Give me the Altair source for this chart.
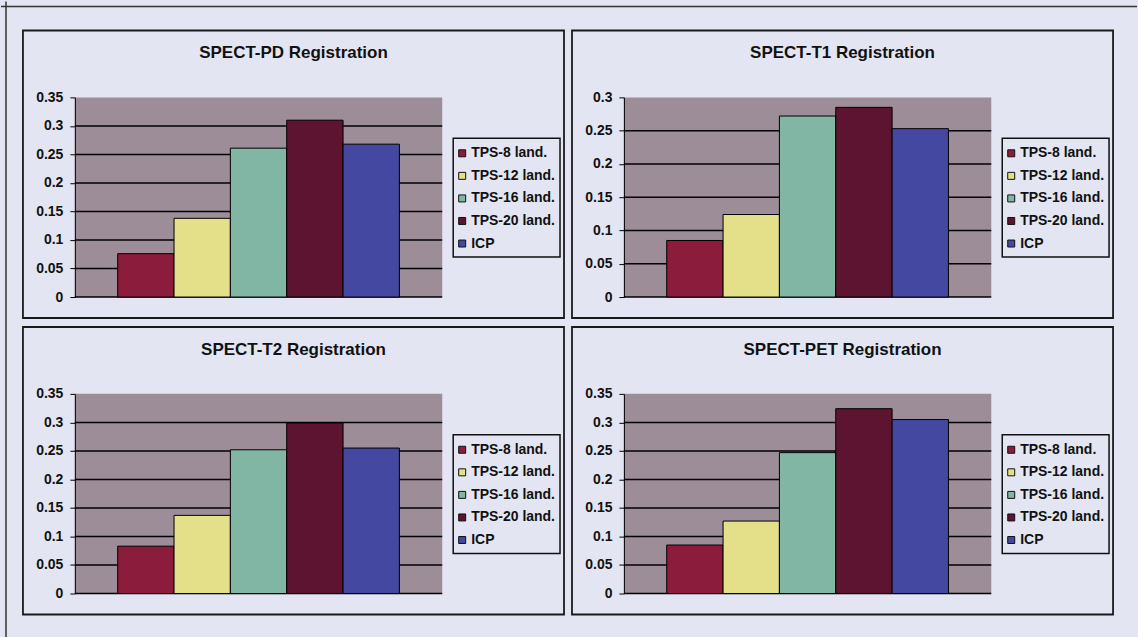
import altair as alt
import pandas as pd

# Series shown in every panel, in legend order
series = ["TPS-8 land.", "TPS-12 land.", "TPS-16 land.", "TPS-20 land.", "ICP"]
series_colors = ["#8c1c3b", "#e4e08a", "#80b6a3", "#5c1430", "#4548a0"]

# Panel titles
titles = [
    "SPECT-PD Registration",
    "SPECT-T1 Registration",
    "SPECT-T2 Registration",
    "SPECT-PET Registration",
]

# Registration error per method
spect_pd = [0.076, 0.138, 0.261, 0.310, 0.268]
spect_t1 = [0.085, 0.124, 0.272, 0.285, 0.253]
spect_t2 = [0.083, 0.137, 0.252, 0.299, 0.255]
spect_pet = [0.085, 0.127, 0.247, 0.324, 0.305]

# Y-axis tick values
ticks_035 = [0, 0.05, 0.1, 0.15, 0.2, 0.25, 0.3, 0.35]
ticks_030 = [0, 0.05, 0.1, 0.15, 0.2, 0.25, 0.3]

PAGE_BG = "#e3e6f2"
PLOT_BG = "#9c8d99"
FONT = "Liberation Sans"

PLOT_W = 368
PLOT_H = 200


def panel(title, values, ticks, outer_edges=False):
    bars_df = pd.DataFrame({"Series": series, "Value": values})
    grid_df = pd.DataFrame({"Value": ticks[:-1]})
    label_df = pd.DataFrame({"Title": [title]})

    yscale = alt.Scale(domain=[0, ticks[-1]], nice=False, zero=True)
    yaxis = alt.Axis(
        values=ticks,
        format="~g",
        title=None,
        grid=False,
        domainColor="#000",
        domainWidth=1,
        tickColor="#000",
        tickSize=5,
        tickWidth=1,
        labelFont=FONT,
        labelFontSize=14,
        labelFontWeight="bold",
        labelColor="#111",
        labelPadding=7,
    )

    grid = alt.Chart(grid_df).mark_rule(color="#000", strokeWidth=1.5).encode(
        y=alt.Y("Value:Q", scale=yscale, axis=yaxis)
    )

    bars = alt.Chart(bars_df).mark_bar(stroke="#000", strokeWidth=1).encode(
        x=alt.X(
            "Series:N",
            sort=series,
            scale=alt.Scale(domain=series, paddingInner=0, paddingOuter=0.76),
            axis=None,
        ),
        y=alt.Y("Value:Q", scale=yscale, axis=yaxis),
        color=alt.Color(
            "Series:N",
            scale=alt.Scale(domain=series, range=series_colors),
            legend=alt.Legend(
                title=None,
                orient="none",
                legendX=381,
                legendY=49,
                symbolType="square",
                symbolSize=49,
                symbolStrokeColor="#111",
                symbolStrokeWidth=1,
                labelFont=FONT,
                labelFontSize=14,
                labelFontWeight="bold",
                labelColor="#111",
                labelOffset=2,
                labelLimit=200,
                rowPadding=8.6,
                padding=0,
            ),
        ),
    )

    # Box around the legend
    legend_box = alt.Chart(label_df).mark_rect(
        fill="transparent", stroke="#111", strokeWidth=1.5
    ).encode(
        x=alt.value(379), x2=alt.value(486), y=alt.value(41), y2=alt.value(160)
    )

    # Chart-area frame of the panel
    frame = alt.Chart(label_df).mark_rect(
        fill="transparent", stroke="#1a1a1a", strokeWidth=1.8
    ).encode(
        x=alt.value(-52), x2=alt.value(490), y=alt.value(-67), y2=alt.value(221)
    )

    heading = alt.Chart(label_df).mark_text(
        font=FONT, fontSize=17, fontWeight="bold", color="#111", baseline="middle"
    ).encode(x=alt.value(219), y=alt.value(-44), text="Title:N")

    layers = [grid, bars, legend_box, frame, heading]

    if outer_edges:
        edge_top = alt.Chart(label_df).mark_rule(color="#333", strokeWidth=1.5).encode(
            x=alt.value(-74), x2=alt.value(1064), y=alt.value(-91)
        )
        edge_left = alt.Chart(label_df).mark_rule(color="#333", strokeWidth=1.5).encode(
            x=alt.value(-69), y=alt.value(-96), y2=alt.value(541)
        )
        layers += [edge_top, edge_left]

    return alt.layer(*layers).properties(width=PLOT_W, height=PLOT_H)


p1 = panel(titles[0], spect_pd, ticks_035, outer_edges=True)
p2 = panel(titles[1], spect_t1, ticks_030)
p3 = panel(titles[2], spect_t2, ticks_035)
p4 = panel(titles[3], spect_pet, ticks_035)

chart = (
    alt.concat(
        p1, p2, p3, p4,
        columns=2,
        spacing={"row": 97, "column": 182},
        bounds="flush",
    )
    .resolve_scale(x="independent", y="independent", color="independent")
    .resolve_legend(color="independent")
    .properties(padding=0, background=PAGE_BG)
    .configure(font=FONT)
    .configure_view(fill=PLOT_BG, stroke="transparent", strokeWidth=0)
)

chart.save("out.html", embed_options={"renderer": "svg", "actions": False})
